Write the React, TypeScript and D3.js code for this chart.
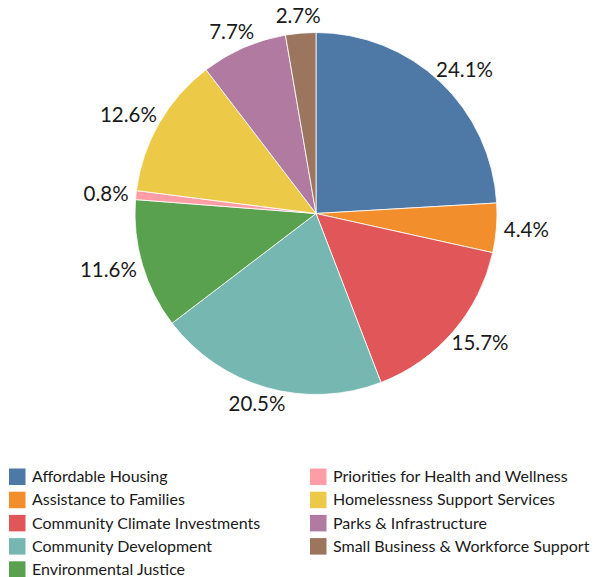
import React from "react";
import * as d3 from "d3";

const categories = [
  "Affordable Housing",
  "Assistance to Families",
  "Community Climate Investments",
  "Community Development",
  "Environmental Justice",
  "Priorities for Health and Wellness",
  "Homelessness Support Services",
  "Parks & Infrastructure",
  "Small Business & Workforce Support",
];
const values = [24.1, 4.4, 15.7, 20.5, 11.6, 0.8, 12.6, 7.7, 2.7];
const colors = ["#4e79a7", "#f28e2b", "#e15759", "#76b7b2", "#59a14f", "#ff9da7", "#edc948", "#b07aa1", "#9c755f"];
const legendOrder = [0, 1, 2, 3, 4, 5, 6, 7, 8];

const W = 593, H = 577;
const cx = 316, cy = 213.5, R = 181;
const FONT = "Lato, 'Open Sans', sans-serif";

export default function App() {
  const pie = d3.pie<number>().value((d) => d).sort(null);
  const arcs = pie(values);
  const arc = d3.arc<d3.PieArcDatum<number>>().innerRadius(0).outerRadius(R);
  const labelR = R + 8;
  const labelW = (s: string) => s.length * 11;
  const labelH = 18;

  const rows = 5;
  const legendX = [9, 310];
  const legendY0 = 476.5;
  const legendStep = 23.2;

  return (
    <svg width={W} height={H} style={{ position: "absolute", left: 0, top: 0 }}>
      <g transform={`translate(${cx},${cy})`}>
        {arcs.map((a, i) => (
          <path key={i} d={arc(a) || ""} fill={colors[i]} stroke="#fff" strokeWidth={0.8} />
        ))}
        {arcs.map((a, i) => {
          const mid = (a.startAngle + a.endAngle) / 2;
          const s = Math.sin(mid), c = Math.cos(mid);
          const txt = values[i].toFixed(1) + "%";
          const w = labelW(txt);
          const x = labelR * s + (w / 2) * s;
          const y = -labelR * c - (labelH / 2) * c;
          return (
            <text key={"l" + i} x={x} y={y} dy="0.35em" textAnchor="middle"
              fontFamily={FONT} fontSize={20.5} fill="#1a1a1a">
              {txt}
            </text>
          );
        })}
      </g>
      {legendOrder.map((idx, k) => {
        const col = Math.floor(k / rows);
        const row = k % rows;
        const x = legendX[col];
        const y = legendY0 + row * legendStep;
        return (
          <g key={"lg" + k}>
            <rect x={x} y={y - 8} width={16.5} height={16.5} fill={colors[idx]} />
            <text x={x + 23} y={y} dy="0.35em" fontFamily={FONT} fontSize={16} fill="#1a1a1a">
              {categories[idx]}
            </text>
          </g>
        );
      })}
    </svg>
  );
}
